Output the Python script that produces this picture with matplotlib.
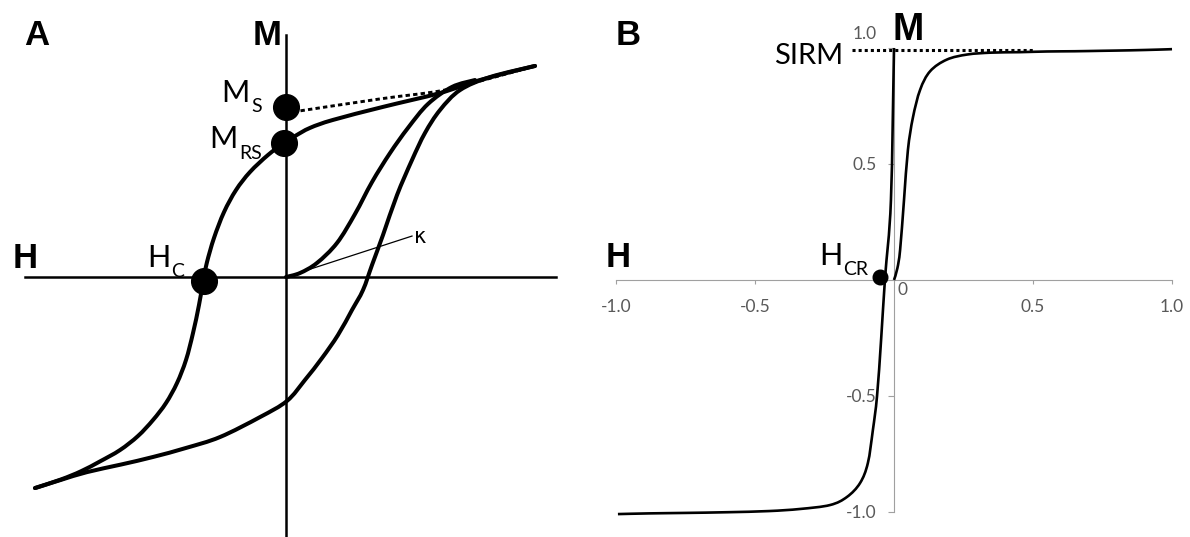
import numpy as np
import matplotlib
matplotlib.use("Agg")
import matplotlib.pyplot as plt
from matplotlib.path import Path
from matplotlib.patches import PathPatch
from matplotlib.transforms import ScaledTranslation

# ---------------- Panel A: schematic hysteresis loop (H, M in normalised units)
loop_desc_h = [0.996, 0.776, 0.616, 0.388, 0.188, 0.096, 0.036, -0.008, -0.072, -0.144,
               -0.200, -0.248, -0.288, -0.316, -0.328, -0.348, -0.372, -0.400, -0.436,
               -0.480, -0.532, -0.592, -0.664, -0.744, -0.820, -0.900, -1.004]
loop_desc_m = [1.005, 0.938, 0.876, 0.810, 0.748, 0.710, 0.671, 0.638, 0.581, 0.500,
               0.414, 0.309, 0.186, 0.071, 0.000, -0.133, -0.267, -0.395, -0.505,
               -0.600, -0.681, -0.757, -0.824, -0.878, -0.925, -0.964, -1.005]

loop_asc_h = [-1.004, -0.900, -0.796, -0.660, -0.532, -0.400, -0.264, -0.104, 0.004, 0.076,
              0.144, 0.208, 0.264, 0.308, 0.344, 0.388, 0.444, 0.504, 0.556, 0.616, 0.696,
              0.816, 0.996]
loop_asc_m = [-1.005, -0.966, -0.929, -0.893, -0.857, -0.814, -0.762, -0.667, -0.590, -0.490,
              -0.386, -0.276, -0.157, -0.062, 0.057, 0.200, 0.390, 0.557, 0.686, 0.795, 0.890,
              0.952, 1.005]

initial_h = [0.0, 0.056, 0.124, 0.204, 0.276, 0.344, 0.416, 0.488, 0.568, 0.664, 0.756]
initial_m = [0.0, 0.019, 0.067, 0.162, 0.300, 0.452, 0.590, 0.710, 0.824, 0.905, 0.938]

# high-field slope extrapolated back to H = 0
slope_h = [0.028, 0.376, 0.616, 0.776, 0.996]
slope_m = [0.786, 0.848, 0.886, 0.933, 1.005]

# initial susceptibility tangent
kappa_h = [0.0, 0.504]
kappa_m = [0.0, 0.195]

ms_point = (0.0, 0.81)
mrs_point = (-0.008, 0.638)
hc_point = (-0.33, -0.02)

# ---------------- Panel B: IRM acquisition and backfield curves
irm_h = [0.0, 0.012, 0.022, 0.036, 0.050, 0.068, 0.094, 0.130, 0.190, 0.264, 0.350,
         0.450, 0.550, 0.650, 0.750, 0.850, 0.950, 1.000]
irm_m = [0.0, 0.050, 0.130, 0.345, 0.560, 0.700, 0.820, 0.900, 0.950, 0.972, 0.980,
         0.982, 0.985, 0.986, 0.988, 0.990, 0.993, 0.995]

back_h = [0.0, -0.011, -0.032, -0.046, -0.061, -0.076, -0.094, -0.122, -0.169, -0.230,
          -0.338, -0.450, -0.600, -0.750, -0.880, -0.993]
back_m = [1.0, 0.345, 0.013, -0.250, -0.500, -0.647, -0.789, -0.875, -0.935, -0.970,
          -0.987, -0.996, -1.001, -1.004, -1.006, -1.009]

sirm_h = [-0.15, 0.50]
sirm_m = [0.99, 0.99]

hcr_point = (-0.05, 0.013)

x_ticks_b = [-1.0, -0.5, 0.5, 1.0]
x_ticklabels_b = ["-1.0", "-0.5", "0.5", "1.0"]
y_ticks_b = [-1.0, -0.5, 0.5, 1.0]
y_ticklabels_b = ["-1.0", "-0.5", "0.5", "1.0"]

BOLD = "Liberation Sans"
REG = "Lato"
GREY = "#595959"


def smooth_curve(ax, xs, ys, **kw):
    """Draw a smooth Catmull-Rom style Bezier path through the given points."""
    pts = np.column_stack([xs, ys]).astype(float)
    n = len(pts)
    verts = [pts[0]]
    codes = [Path.MOVETO]
    for i in range(n - 1):
        p0 = pts[i - 1] if i > 0 else pts[i]
        p1 = pts[i]
        p2 = pts[i + 1]
        p3 = pts[i + 2] if i + 2 < n else pts[i + 1]
        c1 = p1 + (p2 - p0) / 6.0
        c2 = p2 - (p3 - p1) / 6.0
        verts += [c1, c2, p2]
        codes += [Path.CURVE4] * 3
    patch = PathPatch(Path(verts, codes), fill=False, **kw)
    ax.add_patch(patch)
    return patch


fig = plt.figure(figsize=(11.9, 5.37), dpi=100)
fig.patch.set_facecolor("white")

# ======================= Panel A =======================
axA = fig.add_axes([0, 0, 595 / 1190, 1])
axA.set_xlim(-1.144, 1.236)
axA.set_ylim(-1.238, 1.319)
for s in ("top", "right"):
    axA.spines[s].set_visible(False)
axA.spines["left"].set_position(("data", 0))
axA.spines["bottom"].set_position(("data", 0))
axA.spines["left"].set_bounds(-1.24, 1.152)
axA.spines["bottom"].set_bounds(-1.044, 1.08)
for s in ("left", "bottom"):
    axA.spines[s].set_linewidth(1.8)
    axA.spines[s].set_color("black")
axA.set_xticks([])
axA.set_yticks([])
axA.patch.set_alpha(0)

lwA = 2.9
smooth_curve(axA, loop_desc_h, loop_desc_m, lw=lwA, color="black", capstyle="round", zorder=3)
smooth_curve(axA, loop_asc_h, loop_asc_m, lw=lwA, color="black", capstyle="round", zorder=3)
smooth_curve(axA, initial_h, initial_m, lw=lwA, color="black", capstyle="round", zorder=3)
smooth_curve(axA, slope_h, slope_m, lw=2.1, color="black", linestyle=(0, (1.5, 1.1)), zorder=4)
axA.plot(kappa_h, kappa_m, color="black", lw=0.9, zorder=2)

for pt in (ms_point, mrs_point, hc_point):
    axA.plot(*pt, "o", color="black", markersize=18.5, zorder=5)

axA.text(-0.996, 1.148, "A", fontsize=25, fontweight="bold", family=BOLD, ha="center", va="center")
axA.text(-0.076, 1.148, "M", fontsize=25, fontweight="bold", family=BOLD, ha="center", va="center")
axA.text(-1.044, 0.090, "H", fontsize=25, fontweight="bold", family=BOLD, ha="center", va="center")

axA.text(-0.144, 0.833, "M", fontsize=22, family=REG, ha="right", va="baseline")
axA.text(-0.140, 0.786, "S", fontsize=14, family=REG, ha="left", va="baseline")
axA.text(-0.192, 0.614, "M", fontsize=22, family=REG, ha="right", va="baseline")
axA.text(-0.188, 0.562, "RS", fontsize=14, family=REG, ha="left", va="baseline")
axA.text(-0.464, 0.048, "H", fontsize=22, family=REG, ha="right", va="baseline")
axA.text(-0.460, 0.000, "C", fontsize=14, family=REG, ha="left", va="baseline")
axA.text(0.512, 0.19, "κ", fontsize=15, family="DejaVu Sans", ha="left", va="center")

# ======================= Panel B =======================
axB = fig.add_axes([595 / 1190, 0, 595 / 1190, 1])
axB.set_xlim(-1.0755, 1.0647)
axB.set_ylim(-1.1078, 1.2069)
axB.patch.set_alpha(0)
for s in ("top", "right"):
    axB.spines[s].set_visible(False)
axB.spines["left"].set_position(("data", 0))
axB.spines["bottom"].set_position(("data", 0))
axB.spines["left"].set_bounds(-1.0, 1.0)
axB.spines["bottom"].set_bounds(-1.0, 1.0)
for s in ("left", "bottom"):
    axB.spines[s].set_linewidth(0.8)
    axB.spines[s].set_color("#a0a0a0")

axB.set_xticks(x_ticks_b)
axB.set_xticklabels(x_ticklabels_b)
axB.set_yticks(y_ticks_b)
axB.set_yticklabels(y_ticklabels_b)
axB.tick_params(axis="x", direction="out", length=3, width=0.8, color="#a0a0a0",
                labelsize=12.5, labelcolor=GREY, pad=11)
axB.tick_params(axis="y", direction="out", length=4.5, width=0.8, color="#a0a0a0",
                labelsize=12.5, labelcolor=GREY, pad=8)
for lab in axB.get_xticklabels() + axB.get_yticklabels():
    lab.set_family(REG)
# the top label sits a little above its tick
top_lab = axB.get_yticklabels()[-1]
top_lab.set_transform(top_lab.get_transform() + ScaledTranslation(0, 0.15, fig.dpi_scale_trans))

axB.text(0.029, -0.043, "0", fontsize=12.5, family=REG, color=GREY, ha="center", va="center")

lwB = 1.9
smooth_curve(axB, irm_h, irm_m, lw=lwB, color="black", zorder=3)
smooth_curve(axB, back_h, back_m, lw=lwB, color="black", zorder=3)
axB.plot(sirm_h, sirm_m, color="black", lw=2.2, linestyle=(0, (1, 1)), zorder=2)
axB.plot(*hcr_point, "o", color="black", markersize=10.5, zorder=5)

axB.text(-0.957, 1.056, "B", fontsize=25, fontweight="bold", family=BOLD, ha="center", va="center")
axB.text(0.050, 1.078, "M", fontsize=27, fontweight="bold", family=BOLD, ha="center", va="center")
axB.text(-0.993, 0.095, "H", fontsize=25, fontweight="bold", family=BOLD, ha="center", va="center")
axB.text(-0.183, 0.966, "SIRM", fontsize=21, family=REG, ha="right", va="center")
axB.text(-0.187, 0.065, "H", fontsize=22, family=REG, ha="right", va="baseline")
axB.text(-0.183, 0.022, "CR", fontsize=14, family=REG, ha="left", va="baseline")

fig.savefig("out.png", dpi=100, facecolor="white")
